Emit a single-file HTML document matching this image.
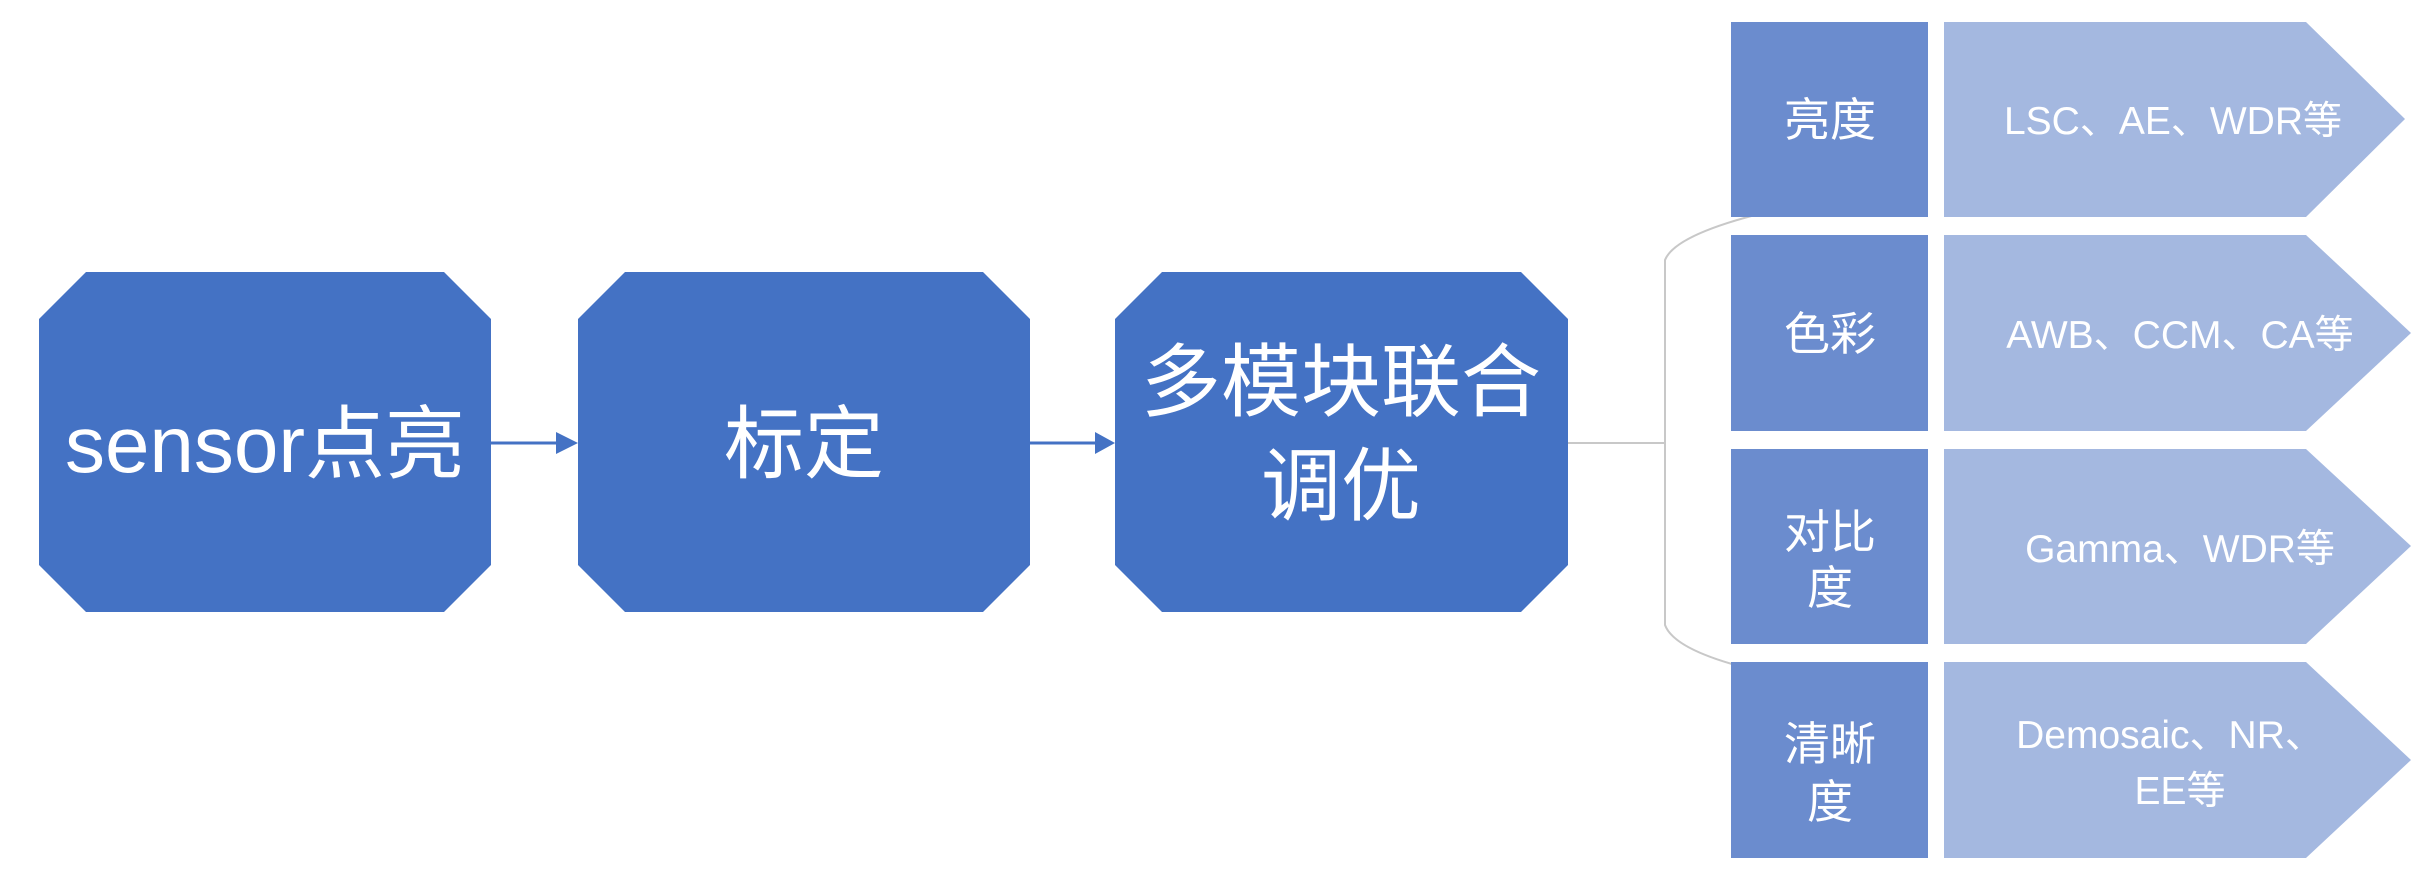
<!DOCTYPE html>
<html><head><meta charset="utf-8"><style>
html,body{margin:0;padding:0;background:#fff;width:2436px;height:882px;overflow:hidden}
text{font-family:"Liberation Sans","Noto Sans CJK SC",sans-serif;fill:#fff}
</style></head><body>
<svg width="2436" height="882" viewBox="0 0 2436 882" xmlns="http://www.w3.org/2000/svg">
<g fill="#4472C4">
<polygon points="86,272 444,272 491,319 491,565 444,612 86,612 39,565 39,319"/>
<polygon points="625,272 983,272 1030,319 1030,565 983,612 625,612 578,565 578,319"/>
<polygon points="1162,272 1521,272 1568,319 1568,565 1521,612 1162,612 1115,565 1115,319"/>
</g>
<g stroke="#4472C4" stroke-width="3" fill="#4472C4">
<line x1="491" y1="443" x2="558" y2="443"/><polygon points="556,432 578,443 556,454" stroke="none"/>
<line x1="1030" y1="443" x2="1097" y2="443"/><polygon points="1095,432 1115,443 1095,454" stroke="none"/>
</g>
<g stroke="#c8c8c8" stroke-width="2" fill="none">
<line x1="1568" y1="443" x2="1665" y2="443"/>
<path d="M1763,213 Q1675,235 1665,260 L1665,625 Q1675,652 1763,672"/>
</g>
<g fill="#6B8CCE">
<rect x="1731" y="22" width="197" height="195"/>
<rect x="1731" y="235" width="197" height="196"/>
<rect x="1731" y="449" width="197" height="195"/>
<rect x="1731" y="662" width="197" height="196"/>
</g>
<g fill="#A4B8E0">
<polygon points="1944,22 2306,22 2405,119 2306,217 1944,217"/>
<polygon points="1944,235 2306,235 2411,333 2306,431 1944,431"/>
<polygon points="1944,449 2306,449 2411,546 2306,644 1944,644"/>
<polygon points="1944,662 2306,662 2411,760 2306,858 1944,858"/>
</g>
<g text-anchor="middle" font-size="80">
<text x="265" y="472">sensor点亮</text>
<text x="804" y="472">标定</text>
<text x="1341" y="410">多模块联合</text>
<text x="1341" y="514">调优</text>
</g>
<g text-anchor="middle" font-size="46">
<text x="1830" y="136">亮度</text>
<text x="1830" y="350">色彩</text>
<text x="1830" y="548">对比</text>
<text x="1830" y="604">度</text>
<text x="1830" y="760">清晰</text>
<text x="1830" y="818">度</text>
</g>
<g text-anchor="middle" font-size="39">
<text x="2173" y="134">LSC、AE、WDR等</text>
<text x="2180" y="348">AWB、CCM、CA等</text>
<text x="2180" y="562">Gamma、WDR等</text>
<text x="2170" y="748">Demosaic、NR、</text>
<text x="2180" y="804">EE等</text>
</g>
</svg>
</body></html>
